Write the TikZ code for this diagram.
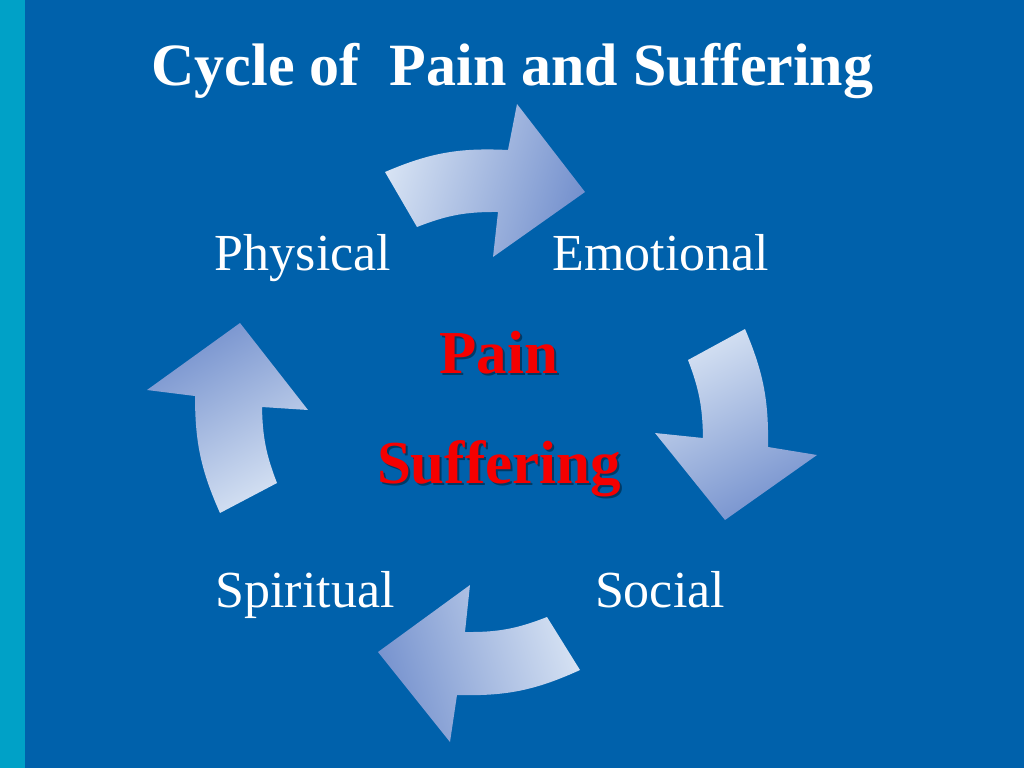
\documentclass[tikz,border=0pt]{standalone}
\usepackage{fontspec}
\setmainfont{Liberation Serif}
\definecolor{bgblue}{RGB}{0,97,171}
\definecolor{stripcyan}{RGB}{0,161,199}
\definecolor{arrlight}{RGB}{214,226,243}
\definecolor{arrdark}{RGB}{118,146,206}
\definecolor{painred}{RGB}{245,0,0}
\begin{document}
\begin{tikzpicture}[x=1pt,y=-1pt,
  titletext/.style={text=white, font=\fontsize{60}{72}\selectfont\bfseries, anchor=base, inner sep=0pt},
  aspect/.style={text=white, font=\fontsize{52}{62}\selectfont, anchor=base, inner sep=0pt},
  coretext/.style={text=painred, font=\fontsize{61}{72}\selectfont\bfseries, anchor=base, inner sep=0pt},
  coreshadow/.style={text=black, text opacity=0.4, font=\fontsize{61}{72}\selectfont\bfseries, anchor=base, inner sep=0pt},
  arrowfill/.style={top color=arrlight, bottom color=arrdark}
]
\useasboundingbox (0,0) rectangle (1024,768);
\fill[bgblue] (0,0) rectangle (1024,768);
\fill[stripcyan] (0,0) rectangle (25,768);

% title
\node[titletext] (title) at (512.5,85) {Cycle of~ Pain and Suffering};

% top arrow
\coordinate (tA1) at (385,172);
\coordinate (tA2) at (508,150);
\coordinate (tA3) at (517,104);
\coordinate (tA4) at (585,192);
\coordinate (tA5) at (493,257);
\coordinate (tA6) at (498,212);
\coordinate (tA7) at (417,227);
\shade[arrowfill, shading angle=73] (tA1) to[bend left=13] (tA2) -- (tA3) -- (tA4) -- (tA5) -- (tA6) to[bend right=11] (tA7) -- cycle;

% right arrow
\coordinate (rA1) at (745,329);
\coordinate (rA2) at (768,447);
\coordinate (rA3) at (817,455);
\coordinate (rA4) at (725,520);
\coordinate (rA5) at (655,433);
\coordinate (rA6) at (703,438);
\coordinate (rA7) at (688,360);
\shade[arrowfill, shading angle=27] (rA1) to[bend left=12] (rA2) -- (rA3) -- (rA4) -- (rA5) -- (rA6) to[bend right=10] (rA7) -- cycle;

% bottom arrow
\coordinate (bA1) at (580,670);
\coordinate (bA2) at (457,695);
\coordinate (bA3) at (450,742);
\coordinate (bA4) at (378,652);
\coordinate (bA5) at (470,585);
\coordinate (bA6) at (465,632);
\coordinate (bA7) at (547,617);
\shade[arrowfill, shading angle=287] (bA1) to[bend left=13] (bA2) -- (bA3) -- (bA4) -- (bA5) -- (bA6) to[bend right=11] (bA7) -- cycle;

% left arrow
\coordinate (lA1) at (220,513);
\coordinate (lA2) at (195,396);
\coordinate (lA3) at (147,390);
\coordinate (lA4) at (240,323);
\coordinate (lA5) at (308,410);
\coordinate (lA6) at (262,407);
\coordinate (lA7) at (277,483);
\shade[arrowfill, shading angle=210] (lA1) to[bend left=12] (lA2) -- (lA3) -- (lA4) -- (lA5) -- (lA6) to[bend right=10] (lA7) -- cycle;

% labels
\node[aspect] (physical) at (303,270) {Physical};
\node[aspect] (emotional) at (661,270) {Emotional};
\node[aspect] (spiritual) at (305,607) {Spiritual};
\node[aspect] (social) at (660,607) {Social};

% centre
\node[coreshadow] (painsh) at (501,375) {Pain};
\node[coretext] (pain) at (499,373) {Pain};
\node[coreshadow] (suffsh) at (501,485) {Suffering};
\node[coretext] (suffering) at (499,483) {Suffering};
\end{tikzpicture}
\end{document}
